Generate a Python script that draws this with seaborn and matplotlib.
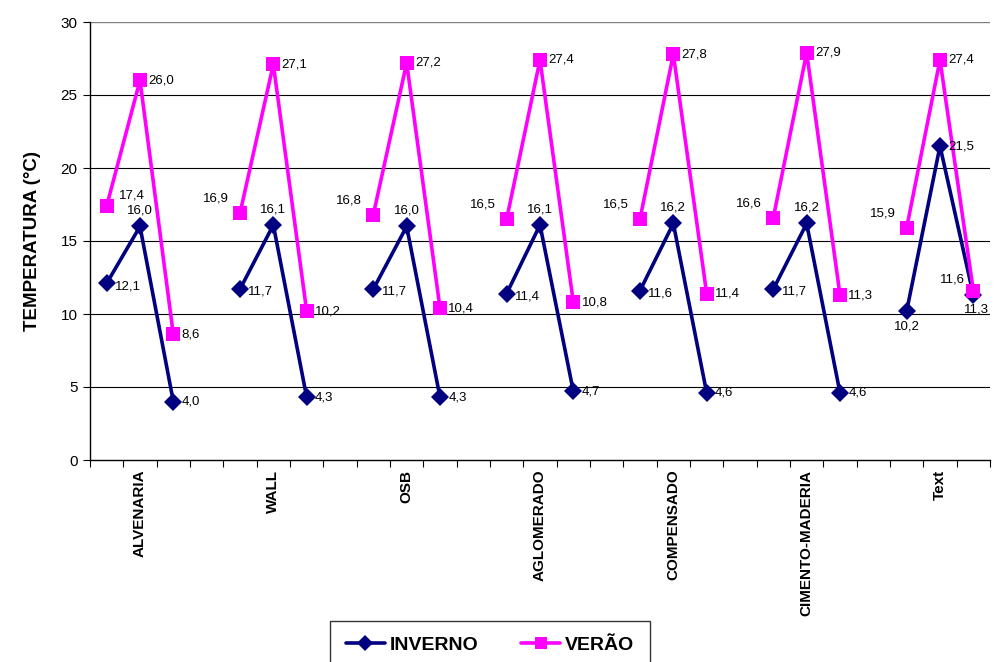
import numpy as np
import pandas as pd
import matplotlib
matplotlib.use("Agg")
import matplotlib.pyplot as plt
import seaborn as sns
from matplotlib.lines import Line2D

# dados (mínima, média, máxima por painel)
materiais = ["ALVENARIA", "WALL", "OSB", "AGLOMERADO", "COMPENSADO", "CIMENTO-MADERIA", "Text"]
inverno = [
    [12.1, 16.0, 4.0],
    [11.7, 16.1, 4.3],
    [11.7, 16.0, 4.3],
    [11.4, 16.1, 4.7],
    [11.6, 16.2, 4.6],
    [11.7, 16.2, 4.6],
    [10.2, 21.5, 11.3],
]
verao = [
    [17.4, 26.0, 8.6],
    [16.9, 27.1, 10.2],
    [16.8, 27.2, 10.4],
    [16.5, 27.4, 10.8],
    [16.5, 27.8, 11.4],
    [16.6, 27.9, 11.3],
    [15.9, 27.4, 11.6],
]

sns.set_theme(style="white")
plt.rcParams["font.family"] = ["Liberation Sans", "DejaVu Sans"]
for k in ["text.color", "axes.labelcolor", "xtick.color", "ytick.color"]:
    plt.rcParams[k] = "#000000"

# monta tabela longa: 3 pontos por material, 1 posição vazia entre grupos
linhas = []
for g, nome in enumerate(materiais):
    for k in range(3):
        pos = g * 4 + k
        linhas.append({"pos": pos, "temp": inverno[g][k], "estacao": "INVERNO", "grupo": g})
        linhas.append({"pos": pos, "temp": verao[g][k], "estacao": "VERÃO", "grupo": g})
df = pd.DataFrame(linhas)

cores = {"INVERNO": "#000080", "VERÃO": "#FF00FF"}
marcadores = {"INVERNO": "D", "VERÃO": "s"}

fig = plt.figure(figsize=(9.94, 6.62), dpi=100)
ax = fig.add_axes([90 / 994, 202 / 662, 900 / 994, 438 / 662])

ax.set_ylim(0, 30)
ax.set_yticks(np.arange(0, 31, 5))
for y in range(5, 30, 5):
    ax.axhline(y, color="#000000", lw=0.8, zorder=0)
ax.axhline(30, color="#808080", lw=1.0, zorder=0)

sns.lineplot(data=df, x="pos", y="temp", hue="estacao", style="estacao",
             units="grupo", estimator=None, palette=cores, markers=marcadores,
             dashes=False, lw=2.6, markersize=10, markeredgewidth=0,
             ax=ax, legend=False, sort=False, zorder=3)
for ln in ax.lines:
    if ln.get_marker() == "D":
        ln.set_markersize(9)

# rótulos de dados (deslocamento em pontos)
off_inv = [(6, -2, "left", "center"), (0, 7, "center", "bottom"), (6, 0, "left", "center")]
off_ver = [(-8, 6, "right", "bottom"), (6, 0, "left", "center"), (6, 0, "left", "center")]
for g in range(len(materiais)):
    for k in range(3):
        pos = g * 4 + k
        dx, dy, ha, va = off_inv[k]
        if g == 6 and k == 0:
            dx, dy, ha, va = (0, -7, "center", "top")
        if g == 6 and k == 1:
            dx, dy, ha, va = (6, 0, "left", "center")
        if g == 6 and k == 2:
            dx, dy, ha, va = (2, -6, "center", "top")
        ax.annotate(f"{inverno[g][k]:.1f}".replace(".", ","), (pos, inverno[g][k]),
                    xytext=(dx, dy), textcoords="offset points", ha=ha, va=va,
                    fontsize=9.5, zorder=5)
        dx, dy, ha, va = off_ver[k]
        if g == 0 and k == 0:
            dx, dy, ha, va = (9, 3, "left", "bottom")
        if g == 6 and k == 2:
            dx, dy, ha, va = (-6, 4, "right", "bottom")
        ax.annotate(f"{verao[g][k]:.1f}".replace(".", ","), (pos, verao[g][k]),
                    xytext=(dx, dy), textcoords="offset points", ha=ha, va=va,
                    fontsize=9.5, zorder=5)

# eixo x categórico com marcas entre as categorias
n = len(materiais) * 4 - 1
ax.set_xlim(-0.5, n - 0.5)
ax.set_xticks([g * 4 + 1 for g in range(len(materiais))])
ax.set_xticklabels(materiais, rotation=90, fontsize=11, fontweight="bold")
ax.set_xticks(np.arange(-0.5, n, 1.0), minor=True)
ax.tick_params(axis="x", which="major", length=0, pad=7)
ax.tick_params(axis="x", which="minor", length=5, width=0.8, direction="out", bottom=True)
ax.tick_params(axis="y", length=5, width=0.8, direction="out", left=True, labelsize=11, pad=4)
ax.set_xlabel("")
ax.set_ylabel("TEMPERATURA (°C)", fontsize=13.5, fontweight="bold", labelpad=14)

for s in ["top", "right"]:
    ax.spines[s].set_visible(False)
for s in ["left", "bottom"]:
    ax.spines[s].set_color("#000000")
    ax.spines[s].set_linewidth(1.0)

# legenda
handles = [Line2D([], [], color=cores[e], marker=marcadores[e], lw=2.6,
                  markersize=8 if e == "INVERNO" else 9, markeredgewidth=0) for e in ["INVERNO", "VERÃO"]]
leg = fig.legend(handles, ["INVERNO", "VERÃO"], loc="upper center", ncol=2,
                 bbox_to_anchor=(490 / 994, 41 / 662), frameon=True, fancybox=False,
                 prop={"size": 14, "weight": "bold"}, handlelength=2.0, handletextpad=0.25,
                 columnspacing=2.2, borderpad=0.8, borderaxespad=0)
leg.get_frame().set_edgecolor("#000000")
leg.get_frame().set_linewidth(1.0)

fig.savefig("out.png", dpi=100)
